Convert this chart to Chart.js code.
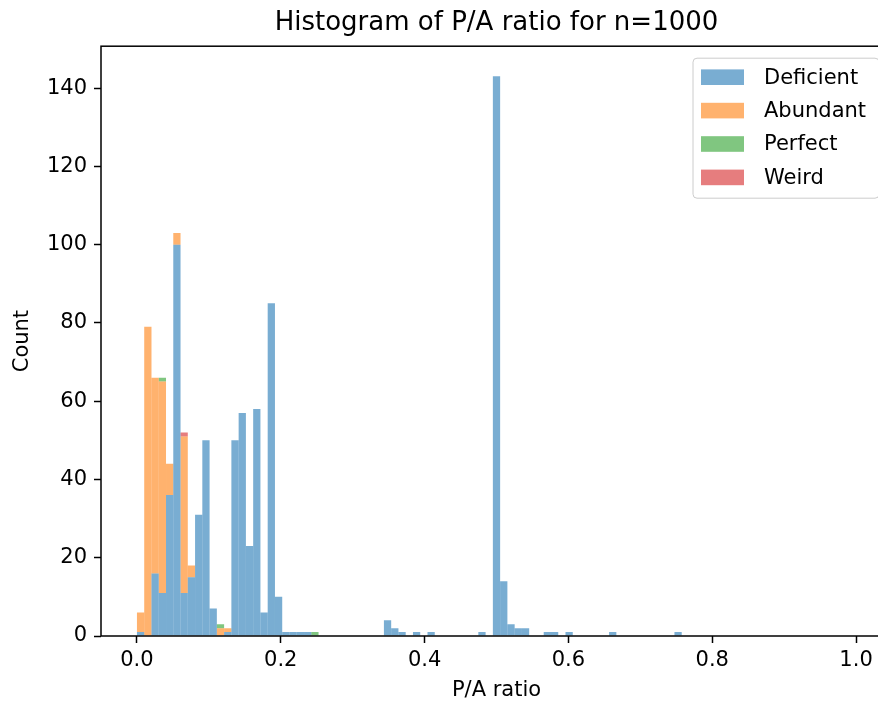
<!DOCTYPE html>
<html>
<head>
<meta charset="utf-8">
<script src="https://cdn.jsdelivr.net/npm/chart.js@4/dist/chart.umd.min.js"></script>
<style>
  html, body { margin: 0; padding: 0; background: #fff; overflow: hidden; }
  #wrap { width: 878px; height: 709px; overflow: hidden; }
</style>
</head>
<body>
<div id="wrap"><canvas id="hist" width="892" height="709"></canvas></div>
<script>
// bins = linspace(0, 1, 100) -> 99 bins, counts
var binCount = 99;

var deficient = [
  1, 0, 16, 11, 36, 100, 11, 15, 31, 50,
  7, 0, 1, 50, 57, 23, 58, 6, 85, 10,
  1, 1, 1, 1, 0, 0, 0, 0, 0, 0,
  0, 0, 0, 0, 4, 2, 1, 0, 1, 0,
  1, 0, 0, 0, 0, 0, 0, 1, 0, 143,
  14, 3, 2, 2, 0, 0, 1, 1, 0, 1,
  0, 0, 0, 0, 0, 1, 0, 0, 0, 0,
  0, 0, 0, 0, 1, 0, 0, 0, 0, 0,
  0, 0, 0, 0, 0, 0, 0, 0, 0, 0,
  0, 0, 0, 0, 0, 0, 0, 0, 0
];
var abundant = [
  5, 79, 50, 54, 8, 3, 40, 3, 0, 0,
  0, 2, 1, 0, 0, 0, 0, 0, 0, 0,
  0, 0, 0, 0, 0, 0, 0, 0, 0, 0,
  0, 0, 0, 0, 0, 0, 0, 0, 0, 0,
  0, 0, 0, 0, 0, 0, 0, 0, 0, 0,
  0, 0, 0, 0, 0, 0, 0, 0, 0, 0,
  0, 0, 0, 0, 0, 0, 0, 0, 0, 0,
  0, 0, 0, 0, 0, 0, 0, 0, 0, 0,
  0, 0, 0, 0, 0, 0, 0, 0, 0, 0,
  0, 0, 0, 0, 0, 0, 0, 0, 0
];
var perfect = [
  0, 0, 0, 1, 0, 0, 0, 0, 0, 0,
  0, 1, 0, 0, 0, 0, 0, 0, 0, 0,
  0, 0, 0, 0, 1, 0, 0, 0, 0, 0,
  0, 0, 0, 0, 0, 0, 0, 0, 0, 0,
  0, 0, 0, 0, 0, 0, 0, 0, 0, 0,
  0, 0, 0, 0, 0, 0, 0, 0, 0, 0,
  0, 0, 0, 0, 0, 0, 0, 0, 0, 0,
  0, 0, 0, 0, 0, 0, 0, 0, 0, 0,
  0, 0, 0, 0, 0, 0, 0, 0, 0, 0,
  0, 0, 0, 0, 0, 0, 0, 0, 0
];
var weird = [
  0, 0, 0, 0, 0, 0, 1, 0, 0, 0,
  0, 0, 0, 0, 0, 0, 0, 0, 0, 0,
  0, 0, 0, 0, 0, 0, 0, 0, 0, 0,
  0, 0, 0, 0, 0, 0, 0, 0, 0, 0,
  0, 0, 0, 0, 0, 0, 0, 0, 0, 0,
  0, 0, 0, 0, 0, 0, 0, 0, 0, 0,
  0, 0, 0, 0, 0, 0, 0, 0, 0, 0,
  0, 0, 0, 0, 0, 0, 0, 0, 0, 0,
  0, 0, 0, 0, 0, 0, 0, 0, 0, 0,
  0, 0, 0, 0, 0, 0, 0, 0, 0
];

var seriesNames = ["Deficient", "Abundant", "Perfect", "Weird"];
var seriesColors = ["rgba(31,119,180,0.6)", "rgba(255,127,14,0.6)", "rgba(44,160,44,0.6)", "rgba(214,39,40,0.6)"];
var xTicks = [0, 0.2, 0.4, 0.6, 0.8, 1.0];
var yTicks = [0, 20, 40, 60, 80, 100, 120, 140];

var FONT = "'DejaVu Sans', 'Liberation Sans', sans-serif";

// bin centres on the x axis
var centers = [];
for (var i = 0; i < binCount; i++) {
  centers.push((i + 0.5) / binCount);
}

function toPoints(counts) {
  return counts.map(function(c, i) { return {x: centers[i], y: c}; });
}

var allSeries = [deficient, abundant, perfect, weird];
var datasets = allSeries.map(function(s, k) {
  return {
    label: seriesNames[k],
    data: toPoints(s),
    backgroundColor: seriesColors[k],
    borderWidth: 0,
    inflateAmount: 0,
    barPercentage: 1.0,
    categoryPercentage: 1.0
  };
});

// axes frame (matplotlib spines)
var frame = {
  id: 'frame',
  afterDatasetsDraw: function(chart) {
    var a = chart.chartArea, ctx = chart.ctx;
    ctx.save();
    ctx.strokeStyle = '#000';
    ctx.lineWidth = 1.5;
    ctx.strokeRect(a.left, a.top, a.right - a.left, a.bottom - a.top);
    ctx.restore();
  }
};

// legend box inside the axes, upper right
var legendInAxes = {
  id: 'legendInAxes',
  afterDraw: function(chart) {
    var ctx = chart.ctx, a = chart.chartArea;
    var boxW = 186, boxH = 140;
    var x0 = a.right - 13 - boxW, y0 = a.top + 12;
    ctx.save();
    ctx.beginPath();
    if (ctx.roundRect) ctx.roundRect(x0, y0, boxW, boxH, 4);
    else ctx.rect(x0, y0, boxW, boxH);
    ctx.fillStyle = 'rgba(255,255,255,0.8)';
    ctx.fill();
    ctx.lineWidth = 1;
    ctx.strokeStyle = '#cccccc';
    ctx.stroke();
    ctx.font = "21px " + FONT;
    ctx.textBaseline = 'middle';
    ctx.textAlign = 'left';
    chart.data.datasets.forEach(function(ds, k) {
      var cy = y0 + 19 + k * 33.4;
      ctx.fillStyle = ds.backgroundColor;
      ctx.fillRect(x0 + 8, cy - 7.8, 43, 15.6);
      ctx.fillStyle = '#000';
      ctx.fillText(ds.label, x0 + 71, cy + 1);
    });
    ctx.restore();
  }
};

var tickFont = {family: FONT, size: 21};

new Chart(document.getElementById("hist"), {
  type: 'bar',
  data: { datasets: datasets },
  options: {
    responsive: false,
    animation: false,
    devicePixelRatio: 1,
    layout: { padding: 0 },
    plugins: {
      legend: { display: false },
      tooltip: { enabled: false },
      title: {
        display: true,
        text: 'Histogram of P/A ratio for n=1000',
        fullSize: false,
        color: '#000',
        font: {family: FONT, size: 26, weight: 'normal'},
        padding: {top: 8, bottom: 7}
      }
    },
    scales: {
      x: {
        type: 'linear',
        min: -0.05,
        max: 1.05,
        stacked: true,
        offset: false,
        afterBuildTicks: function(s) { s.ticks = xTicks.map(function(v) { return {value: v}; }); },
        afterFit: function(s) { s.height = 73; },
        ticks: {
          color: '#000',
          font: tickFont,
          padding: 5,
          maxRotation: 0,
          autoSkip: false,
          callback: function(v) { return Number(v).toFixed(1); }
        },
        grid: { display: true, offset: false, drawOnChartArea: false, drawTicks: true, tickLength: 7, tickWidth: 1.5, tickColor: '#000' },
        border: { display: false },
        title: { display: true, text: 'P/A ratio', color: '#000', font: tickFont, padding: {top: 0, bottom: 6} }
      },
      y: {
        min: 0,
        max: 150.7,
        stacked: true,
        afterBuildTicks: function(s) { s.ticks = yTicks.map(function(v) { return {value: v}; }); },
        afterFit: function(s) { s.width = 101; },
        ticks: { color: '#000', font: tickFont, padding: 7 },
        grid: { display: true, offset: false, drawOnChartArea: false, drawTicks: true, tickLength: 7, tickWidth: 1.5, tickColor: '#000' },
        border: { display: false },
        title: { display: true, text: 'Count', color: '#000', font: tickFont, padding: {top: 10, bottom: 0} }
      }
    }
  },
  plugins: [frame, legendInAxes]
});
</script>
</body>
</html>
